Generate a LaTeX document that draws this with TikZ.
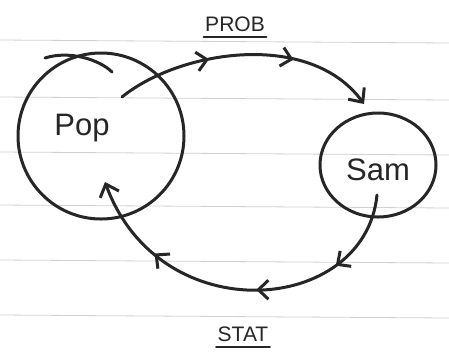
\documentclass[tikz,border=0pt]{standalone}
\usepackage{fontspec}
\setmainfont{Liberation Sans}
\usetikzlibrary{arrows.meta,decorations.markings,shapes.geometric}
\tikzset{
  ink/.style={line width=3pt, draw=black!85, line cap=round, line join=round},
  ruling/.style={draw=black!18, line width=0.8pt},
  barb/.style={-{Straight Barb[length=11pt,width=20pt,line width=3pt]}},
  midbarb/.style={postaction={decorate, decoration={markings,
     mark=at position #1 with {\arrow{Straight Barb[length=10pt,width=19pt,line width=3pt]}}}}},
  lbl/.style={font=\fontsize{31}{31}\selectfont, text=black!85},
  head/.style={font=\fontsize{21}{21}\selectfont, text=black!85}
}
\begin{document}
\begin{tikzpicture}[x=1pt,y=-1pt]
\useasboundingbox[fill=white] (0,0) rectangle (449,354);
% ruled paper
\foreach \yy in {40,97,152,205,260,315}
  \draw[ruling] (0,\yy) -- (449,\yy+3);
% circles
\node[ink, circle, minimum size=166pt, inner sep=0pt] (pop) at (101,136) {};
\node[ink, ellipse, minimum width=116pt, minimum height=104pt, inner sep=0pt] (sam) at (378,165) {};
\draw[ink] (45,58) .. controls (70,50) and (100,60) .. (112,72);
% labels
\node[lbl] (poptxt) at (82,128) {Pop};
\node[lbl] (samtxt) at (378,170) {Sam};
\node[head] (prob) at (235,24) {PROB};
\draw[ink, line width=2pt] ([xshift=2pt,yshift=-2pt]prob.south west) coordinate (pu1) -- ([xshift=-2pt,yshift=-2pt]prob.south east) coordinate (pu2);
\node[head] (stat) at (243,334) {STAT};
\draw[ink, line width=2pt] ([xshift=2pt,yshift=-2pt]stat.south west) coordinate (su1) -- ([xshift=-2pt,yshift=-2pt]stat.south east) coordinate (su2);
% connectors
\coordinate (a1) at (122,97);
\coordinate (a2) at (364,104);
\coordinate (b1) at (377,195);
\coordinate (b2) at (105,182);
\draw[ink, barb, midbarb=0.36, midbarb=0.68]
  (a1) .. controls (180,50) and (310,30) .. (a2);
\draw[ink, barb, midbarb=0.23, midbarb=0.46, midbarb=0.76]
  (b1) .. controls (365,315) and (160,332) .. (b2);
\end{tikzpicture}
\end{document}
